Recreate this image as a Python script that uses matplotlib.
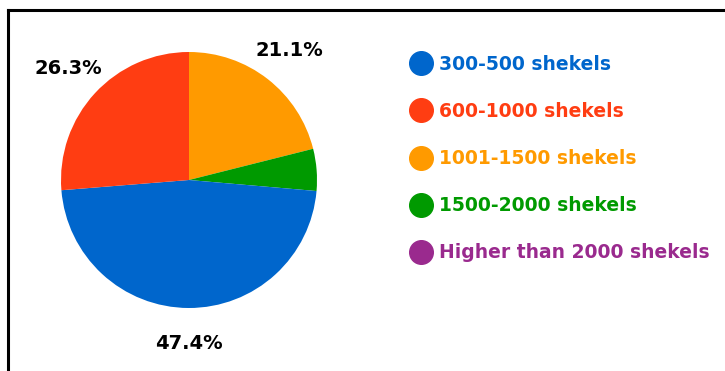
import matplotlib
matplotlib.use("Agg")
import matplotlib.pyplot as plt
from matplotlib.lines import Line2D

categories = ["300-500 shekels", "600-1000 shekels", "1001-1500 shekels",
              "1500-2000 shekels", "Higher than 2000 shekels"]
values = [47.4, 26.3, 21.1, 5.3, 0.0]
colors = ["#0066CC", "#FF3D12", "#FF9A00", "#009A00", "#9A2A8E"]

# drawing order around the pie (clockwise from 12 o'clock)
order = [2, 3, 0, 1, 4]

W, H = 725, 371
fig = plt.figure(figsize=(W / 100, H / 100), dpi=100)
plt.rcParams['font.family'] = ['DejaVu Sans']

cx, cy, r = 189, 180, 128
ax = fig.add_axes([(cx - r) / W, 1 - (cy + r) / H, 2 * r / W, 2 * r / H])

vals = [values[i] for i in order]
cols = [colors[i] for i in order]
wedges, texts, autotexts = ax.pie(
    vals, colors=cols, startangle=90, counterclock=False, radius=1,
    autopct=lambda p: f"{p:.1f}%" if p > 6 else "", pctdistance=1.28,
    textprops=dict(fontsize=14, fontweight='bold', color='black'),
    wedgeprops=dict(linewidth=0))
ax.set_xlim(-1, 1)
ax.set_ylim(-1, 1)
ax.set_aspect('equal')

handles = [Line2D([], [], marker='o', linestyle='none', markersize=17,
                  markerfacecolor=c, markeredgecolor=c) for c in colors]
leg = fig.legend(handles, categories, loc='upper left',
                 bbox_to_anchor=(393 / W, 1 - 38 / H), frameon=False,
                 handletextpad=0.35, labelspacing=1.5, handlelength=1.2,
                 prop=dict(size=13.5, weight='bold'))
for t, c in zip(leg.get_texts(), colors):
    t.set_color(c)

# partial frame: top and left lines
fig.add_artist(Line2D([8 / W, 1.0], [1 - 10 / H, 1 - 10 / H], color='black', lw=2.2,
                      transform=fig.transFigure))
fig.add_artist(Line2D([8 / W, 8 / W], [0, 1 - 10 / H], color='black', lw=2.2,
                      transform=fig.transFigure))

fig.savefig("out.png", dpi=100)
